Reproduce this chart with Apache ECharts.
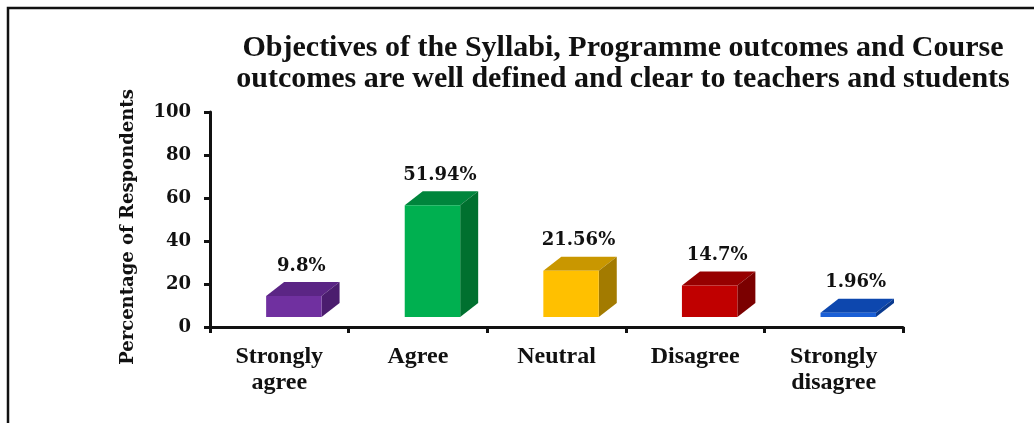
<!DOCTYPE html>
<html>
<head>
<meta charset="utf-8">
<script src="https://cdn.jsdelivr.net/npm/echarts@6/dist/echarts.min.js"></script>
<style>
  html, body { margin: 0; padding: 0; background: #fff; }
  #main { width: 1034px; height: 423px; }
</style>
</head>
<body>
<div id="main"></div>
<script>
// data
var categories = ["Strongly\nagree", "Agree", "Neutral", "Disagree", "Strongly\ndisagree"];
var percents = [9.8, 51.94, 21.56, 14.7, 1.96];
var valueLabels = ["9.8%", "51.94%", "21.56%", "14.7%", "1.96%"];
var yTicks = [0, 20, 40, 60, 80, 100];

// bar face colours
var frontColors = ["#7030a0", "#00b050", "#ffc000", "#c00000", "#1a5fd6"];
var topColors = ["#5b2585", "#00853c", "#c99700", "#960000", "#0d47ae"];
var sideColors = ["#4b1d6e", "#00702f", "#a37b00", "#7b0000", "#0a3a8f"];

var chart = echarts.init(document.getElementById("main"));

function renderItem(params, api) {
  var i = api.value(0);
  var v = api.value(1);
  var base = api.coord([i, 0]);
  var top = api.coord([i, v]);
  var bw = api.size([1, 0])[0];
  var w = bw * 0.4;
  var x0 = base[0] - bw * 0.095;
  var x1 = x0 + w;
  var lift = 10, dx = 18, dy = 14;
  var yb = base[1] - lift;
  var yt = top[1] - lift;
  return {
    type: "group",
    children: [
      {
        type: "polygon",
        shape: { points: [[x0, yt], [x1, yt], [x1 + dx, yt - dy], [x0 + dx, yt - dy]] },
        style: { fill: topColors[i] }
      },
      {
        type: "polygon",
        shape: { points: [[x1, yt], [x1 + dx, yt - dy], [x1 + dx, yb - dy], [x1, yb]] },
        style: { fill: sideColors[i] }
      },
      {
        type: "rect",
        shape: { x: x0, y: yt, width: w, height: yb - yt },
        style: { fill: frontColors[i] }
      },
      {
        type: "text",
        style: {
          text: valueLabels[i],
          x: base[0] + 22,
          y: yt - dy - 16,
          align: "center",
          verticalAlign: "middle",
          font: "bold 18px 'DejaVu Serif'",
          fill: "#111"
        }
      }
    ]
  };
}

var option = {
  animation: false,
  grid: { left: 210, right: 131, top: 112, bottom: 96 },
  graphic: [
    {
      type: "rect",
      shape: { x: 8, y: 8, width: 1060, height: 440 },
      style: { fill: "none", stroke: "#111", lineWidth: 2.5 }
    },
    {
      type: "text",
      x: 623, y: 64,
      style: {
        text: "Objectives of the Syllabi, Programme outcomes and Course\noutcomes are well defined and clear to teachers and students",
        align: "center",
        verticalAlign: "middle",
        lineHeight: 31,
        font: "bold 30px 'Liberation Serif'",
        fill: "#111"
      }
    },
    {
      type: "text",
      x: 128, y: 227,
      rotation: Math.PI / 2,
      style: {
        text: "Percentage of Respondents",
        align: "center",
        verticalAlign: "middle",
        font: "bold 18px 'DejaVu Serif'",
        fill: "#111"
      }
    }
  ],
  xAxis: {
    type: "category",
    data: categories,
    boundaryGap: true,
    axisLine: { lineStyle: { color: "#111", width: 3 } },
    axisTick: { show: true, alignWithLabel: false, length: 6, lineStyle: { color: "#111", width: 3 } },
    axisLabel: {
      margin: 17,
      color: "#111",
      fontFamily: "Liberation Serif",
      fontWeight: "bold",
      fontSize: 24,
      lineHeight: 26
    }
  },
  yAxis: {
    type: "value",
    min: yTicks[0],
    max: yTicks[yTicks.length - 1],
    interval: yTicks[1] - yTicks[0],
    axisLine: { show: true, lineStyle: { color: "#111", width: 3 } },
    axisTick: { show: true, length: 6, lineStyle: { color: "#111", width: 3 } },
    splitLine: { show: false },
    axisLabel: {
      margin: 19,
      color: "#111",
      fontFamily: "DejaVu Serif",
      fontWeight: "bold",
      fontSize: 18
    }
  },
  series: [
    {
      type: "custom",
      renderItem: renderItem,
      data: percents.map(function (p, i) { return [i, p]; }),
      encode: { x: 0, y: 1 }
    }
  ]
};

chart.setOption(option);
</script>
</body>
</html>
